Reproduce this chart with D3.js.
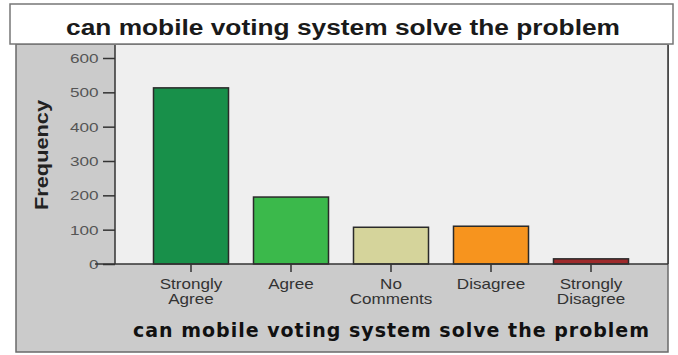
<!DOCTYPE html>
<html>
<head>
<meta charset="utf-8">
<script src="https://cdn.jsdelivr.net/npm/d3@7"></script>
<style>
  body { margin: 0; background: #fff; }
  svg { display: block; font-family: "Liberation Sans", Arial, sans-serif; }
</style>
</head>
<body>
<div id="chart"></div>
<script>
// chart data
const categories = ["Strongly Agree", "Agree", "No Comments", "Disagree", "Strongly Disagree"];
const labelLines = [["Strongly", "Agree"], ["Agree"], ["No", "Comments"], ["Disagree"], ["Strongly", "Disagree"]];
const frequencies = [513, 195, 107, 110, 15];
const barColors = ["#18904a", "#3bb94b", "#d5d49b", "#f7941e", "#9e2a2b"];
const yTicks = [0, 100, 200, 300, 400, 500, 600];
const titleText = "can mobile voting system solve the problem";

const width = 678, height = 355;
const stretch = 1.27; // the source picture is widened horizontally

const svg = d3.select("#chart").append("svg")
    .attr("width", width)
    .attr("height", height);

// outer gray panel
svg.append("rect")
    .attr("x", 16).attr("y", 44)
    .attr("width", 652).attr("height", 308)
    .attr("fill", "#cbcbcb")
    .attr("stroke", "#6a6a6a")
    .attr("stroke-width", 1.5);

// plot area
const plot = { left: 115, right: 668, top: 45, bottom: 264 };

svg.append("rect")
    .attr("x", plot.left).attr("y", plot.top)
    .attr("width", plot.right - plot.left).attr("height", plot.bottom - plot.top)
    .attr("fill", "#efefef");

svg.append("line")
    .attr("x1", plot.right).attr("x2", plot.right)
    .attr("y1", plot.top).attr("y2", plot.bottom)
    .attr("stroke", "#333").attr("stroke-width", 1.5);

// title box
svg.append("rect")
    .attr("x", 10).attr("y", 4)
    .attr("width", 663).attr("height", 40)
    .attr("fill", "#fff")
    .attr("stroke", "#777")
    .attr("stroke-width", 1.5);

svg.append("text")
    .attr("x", 343).attr("y", 35)
    .attr("text-anchor", "middle")
    .attr("font-size", 22)
    .attr("font-weight", "bold")
    .attr("fill", "#1a1a1a")
    .attr("textLength", 554)
    .attr("lengthAdjust", "spacingAndGlyphs")
    .text(titleText);

const x = d3.scaleBand()
    .domain(categories)
    .range([141, 641])
    .paddingInner(0.25)
    .paddingOuter(0.125);

const y = d3.scaleLinear()
    .domain([0, 600])
    .range([plot.bottom, 58]);

// bars
svg.append("g").selectAll("rect")
    .data(frequencies)
    .enter().append("rect")
    .attr("x", (d, i) => x(categories[i]))
    .attr("y", d => y(d))
    .attr("width", x.bandwidth())
    .attr("height", d => y(0) - y(d))
    .attr("fill", (d, i) => barColors[i])
    .attr("stroke", "#2a2a2a")
    .attr("stroke-width", 1.5);

// y axis
const yAxis = svg.append("g")
    .attr("transform", "translate(" + plot.left + ",0)")
    .call(d3.axisLeft(y).tickValues(yTicks).tickSize(12).tickPadding(1));
yAxis.select(".domain").attr("stroke", "#333").attr("stroke-width", 1.5)
    .attr("d", "M0," + plot.top + "V" + plot.bottom);
yAxis.selectAll(".tick line").attr("stroke", "#333").attr("stroke-width", 1.5);
yAxis.selectAll(".tick text")
    .attr("font-size", 13.5)
    .attr("fill", "#555")
    .attr("transform", "scale(" + stretch + ",1)")
    .attr("font-family", "Liberation Sans, Arial, sans-serif");

// x axis
const xAxis = svg.append("g")
    .attr("transform", "translate(0," + plot.bottom + ")")
    .call(d3.axisBottom(x).tickSize(8).tickFormat(""));
xAxis.select(".domain").attr("stroke", "#333").attr("stroke-width", 1.5)
    .attr("d", "M" + (plot.left - 20) + ",0H" + plot.right);
xAxis.selectAll(".tick line").attr("stroke", "#333").attr("stroke-width", 1.5);
xAxis.selectAll(".tick").each(function (d, i) {
    const t = d3.select(this).append("text")
        .attr("text-anchor", "middle")
        .attr("fill", "#333")
        .attr("font-size", 14)
        .attr("transform", "scale(" + (stretch - 0.05) + ",1)")
        .attr("font-family", "Liberation Sans, Arial, sans-serif");
    labelLines[i].forEach(function (line, j) {
        t.append("tspan").attr("x", 0).attr("y", 25 + j * 15).text(line);
    });
});

// axis titles
svg.append("text")
    .attr("x", 391).attr("y", 337)
    .attr("text-anchor", "middle")
    .attr("font-size", 19)
    .attr("font-weight", "bold")
    .attr("fill", "#111")
    .attr("font-family", "DejaVu Sans, sans-serif")
    .attr("textLength", 516)
    .text(titleText);

svg.append("text")
    .attr("transform", "translate(48,155) rotate(-90)")
    .attr("text-anchor", "middle")
    .attr("font-size", 19)
    .attr("font-weight", "bold")
    .attr("fill", "#222")
    .attr("textLength", 110)
    .attr("lengthAdjust", "spacingAndGlyphs")
    .text("Frequency");
</script>
</body>
</html>
